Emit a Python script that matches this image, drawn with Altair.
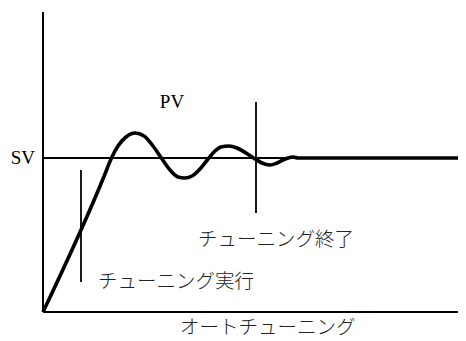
import altair as alt
import pandas as pd

# PV response curve (x: time, y: level above baseline)
pv_x = [0, 62, 68, 75, 83, 92, 101, 110, 119, 127, 135, 142, 149, 157, 165, 171,
        178, 186, 194, 203, 212, 219, 227, 234, 240, 245, 250, 255, 415]
pv_y = [0, 138, 153, 166, 175, 179, 176, 166, 153, 142, 135, 134, 136, 143, 153, 160,
        165, 166, 164, 159, 153, 149, 147, 149, 152, 154, 155, 154, 154]
sv_level = 154
x_max = 415
y_max = 300

# tuning start / end markers
marker_x = [38, 213]
marker_y1 = [30, 99]
marker_y2 = [142, 210]

# labels
serif_text = ["PV", "SV"]
serif_x = [129, -8]
serif_y = [210, 154]
serif_align = ["center", "right"]

jp_text = ["チューニング実行", "チューニング終了", "オートチューニング"]
jp_x = [55, 155, 137]
jp_y = [30, 72, -16]

xs = alt.Scale(domain=[0, x_max], nice=False, zero=False)
ys = alt.Scale(domain=[0, y_max], nice=False, zero=False)

axes_df = pd.DataFrame({"x": [0, 0], "y": [0, 0], "x2": [0, x_max], "y2": [y_max, 0]})
axes = alt.Chart(axes_df).mark_rule(color="black", strokeWidth=2).encode(
    x=alt.X("x:Q", scale=xs, axis=None), y=alt.Y("y:Q", scale=ys, axis=None),
    x2="x2:Q", y2="y2:Q")

sv_df = pd.DataFrame({"x": [0], "x2": [x_max], "y": [sv_level]})
sv = alt.Chart(sv_df).mark_rule(color="black", strokeWidth=2).encode(
    x=alt.X("x:Q", scale=xs, axis=None), x2="x2:Q",
    y=alt.Y("y:Q", scale=ys, axis=None))

mk_df = pd.DataFrame({"x": marker_x, "y": marker_y1, "y2": marker_y2})
markers = alt.Chart(mk_df).mark_rule(color="black", strokeWidth=1.8).encode(
    x=alt.X("x:Q", scale=xs, axis=None),
    y=alt.Y("y:Q", scale=ys, axis=None), y2="y2:Q")

pv_df = pd.DataFrame({"x": pv_x, "y": pv_y, "o": list(range(len(pv_x)))})
pv = alt.Chart(pv_df).mark_line(color="black", strokeWidth=3.6, interpolate="monotone").encode(
    x=alt.X("x:Q", scale=xs, axis=None),
    y=alt.Y("y:Q", scale=ys, axis=None), order="o:Q")

s_df = pd.DataFrame({"t": serif_text, "x": serif_x, "y": serif_y, "a": serif_align})
serif_layers = []
for i in range(len(serif_text)):
    serif_layers.append(
        alt.Chart(s_df.iloc[[i]]).mark_text(
            font="Liberation Serif", fontSize=19, color="black",
            align=serif_align[i], baseline="middle").encode(
            x=alt.X("x:Q", scale=xs, axis=None),
            y=alt.Y("y:Q", scale=ys, axis=None), text="t:N"))

j_df = pd.DataFrame({"t": jp_text, "x": jp_x, "y": jp_y})
jp = alt.Chart(j_df).mark_text(
    font="Noto Sans CJK JP", fontSize=19.5, fontWeight=300, color="#222",
    align="left", baseline="middle").encode(
    x=alt.X("x:Q", scale=xs, axis=None),
    y=alt.Y("y:Q", scale=ys, axis=None), text="t:N")

chart = alt.layer(axes, sv, markers, pv, *serif_layers, jp).properties(
    width=x_max, height=y_max,
    autosize=alt.AutoSizeParams(type="none"),
    padding={"left": 35, "top": 4, "right": 0, "bottom": 29},
    background="white",
).configure_view(stroke=None)

chart.save("out.html", embed_options={"renderer": "svg", "actions": False})
